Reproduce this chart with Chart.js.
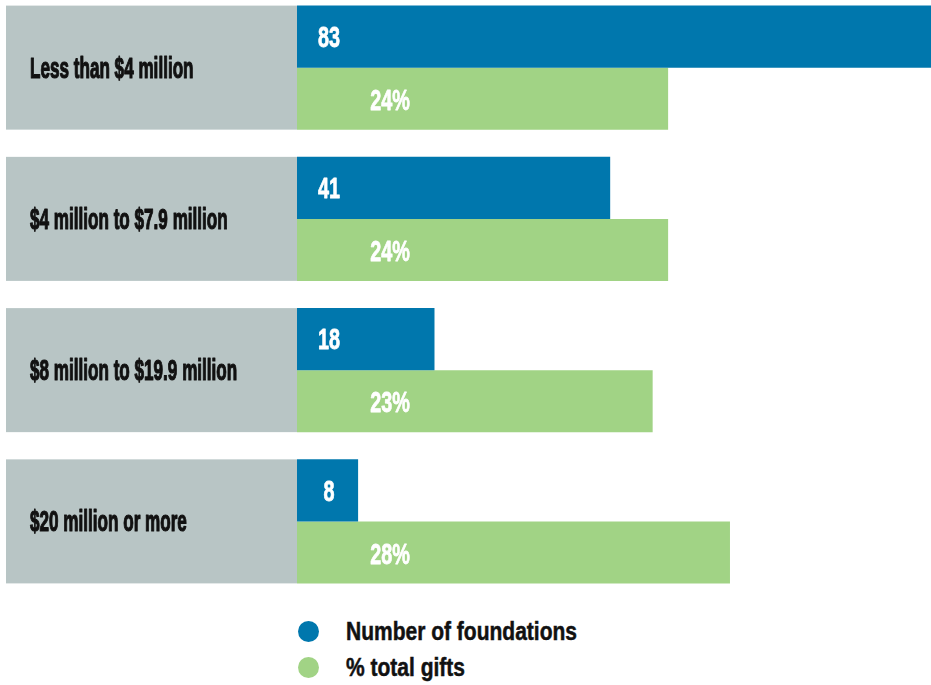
<!DOCTYPE html>
<html>
<head>
<meta charset="utf-8">
<script src="https://cdn.jsdelivr.net/npm/chart.js@4.4.1/dist/chart.umd.min.js"></script>
<style>
  html, body { margin: 0; padding: 0; background: #ffffff; }
  body { width: 931px; height: 685px; position: relative; overflow: hidden; }
  #wrap { position: absolute; left: 0; top: -8px; width: 931px; height: 605px; }
  #legend { position: absolute; left: 298px; top: 613px; font-family: "Liberation Sans", Arial, sans-serif; font-weight: bold; font-size: 25px; color: #111; }
  .item { display: flex; align-items: center; height: 36px; white-space: nowrap; }
  .dot { width: 21px; height: 21px; border-radius: 50%; margin-right: 27px; flex: none; }
  .txt { display: inline-block; transform: scaleX(0.84); transform-origin: left center; -webkit-text-stroke: 0.5px #111; }
</style>
</head>
<body>
<div id="wrap"><canvas id="c" width="931" height="605"></canvas></div>
<div id="legend"></div>
<script>
const categories = ["Less than $4 million", "$4 million to $7.9 million", "$8 million to $19.9 million", "$20 million or more"];
const foundations = [83, 41, 18, 8];
const giftsPct = [24, 24, 23, 28];
const seriesNames = ["Number of foundations", "% total gifts"];
const seriesColors = ["#0077ad", "#a1d385"];
const greyBox = "#b8c5c5";
const FONT = '"Liberation Sans", Arial, sans-serif';

function condensedText(ctx, text, x, y, sx, align, stroke) {
  ctx.save();
  ctx.translate(x, y);
  ctx.scale(sx, 1);
  ctx.textAlign = align;
  ctx.fillText(text, 0, 0);
  if (stroke) {
    ctx.lineWidth = stroke;
    ctx.lineJoin = 'round';
    ctx.strokeStyle = ctx.fillStyle;
    ctx.strokeText(text, 0, 0);
  }
  ctx.restore();
}

const boxPlugin = {
  id: 'boxes',
  beforeDraw(chart) {
    const ctx = chart.ctx;
    const m0 = chart.getDatasetMeta(0), m1 = chart.getDatasetMeta(1);
    const left = chart.chartArea.left;
    const yScale = chart.scales.y;
    ctx.save();
    m0.data.forEach((bar, i) => {
      const top = bar.y - bar.height / 2;
      const g = m1.data[i];
      const bottom = g.y + g.height / 2;
      ctx.fillStyle = greyBox;
      ctx.fillRect(6, top, left - 6, bottom - top);
    });
    // category labels positioned by the y scale
    ctx.fillStyle = '#111111';
    ctx.font = 'bold 29px ' + FONT;
    ctx.textBaseline = 'middle';
    chart.data.labels.forEach((lab, i) => {
      const y = yScale.getPixelForValue(i);
      condensedText(ctx, lab, 30, y + 2, 0.59, 'left', 1.2);
    });
    ctx.restore();
  }
};

const valuePlugin = {
  id: 'values',
  afterDatasetsDraw(chart) {
    const ctx = chart.ctx;
    const left = chart.chartArea.left;
    ctx.save();
    ctx.fillStyle = '#ffffff';
    ctx.font = 'bold 30px ' + FONT;
    ctx.textBaseline = 'middle';
    chart.getDatasetMeta(0).data.forEach((bar, i) => {
      condensedText(ctx, String(foundations[i]), left + 32, bar.y + 2, 0.66, 'center', 0.8);
    });
    chart.getDatasetMeta(1).data.forEach((bar, i) => {
      condensedText(ctx, giftsPct[i] + '%', left + 93, bar.y + 3, 0.66, 'center', 0.8);
    });
    ctx.restore();
  }
};

new Chart(document.getElementById('c'), {
  type: 'bar',
  data: {
    labels: categories,
    datasets: [
      { label: seriesNames[0], data: foundations, backgroundColor: seriesColors[0], xAxisID: 'x', barPercentage: 1, categoryPercentage: 0.82 },
      { label: seriesNames[1], data: giftsPct, backgroundColor: seriesColors[1], xAxisID: 'x2', barPercentage: 1, categoryPercentage: 0.82 }
    ]
  },
  options: {
    indexAxis: 'y',
    responsive: false,
    animation: false,
    layout: { padding: 0 },
    plugins: { legend: { display: false }, tooltip: { enabled: false } },
    scales: {
      x: { display: false, min: 0, max: 83 },
      x2: { display: false, min: 0, max: 41, position: 'bottom' },
      y: {
        display: true,
        grid: { display: false },
        border: { display: false },
        ticks: { display: false },
        afterFit(scale) { scale.width = 297; }
      }
    }
  },
  plugins: [boxPlugin, valuePlugin]
});

const lg = document.getElementById('legend');
seriesNames.forEach((n, i) => {
  const it = document.createElement('div');
  it.className = 'item';
  const d = document.createElement('span');
  d.className = 'dot';
  d.style.background = seriesColors[i];
  const t = document.createElement('span');
  t.className = 'txt';
  t.textContent = n;
  it.appendChild(d); it.appendChild(t);
  lg.appendChild(it);
});
</script>
</body>
</html>
